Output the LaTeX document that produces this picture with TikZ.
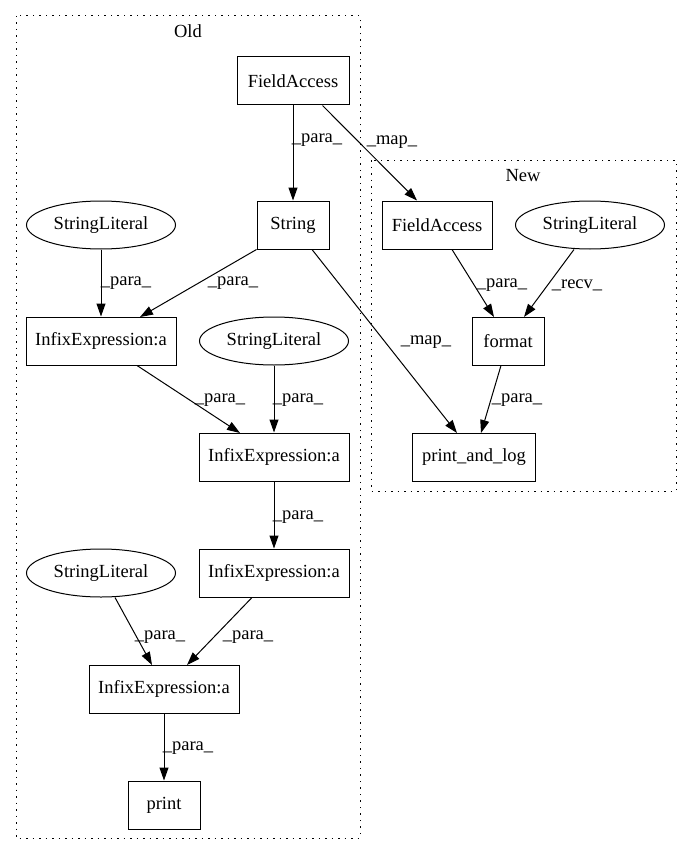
\documentclass[tikz,border=0pt]{standalone}
\usepackage{fontspec}
\setmainfont{Liberation Serif}
\usetikzlibrary{arrows.meta,shapes.geometric}

\begin{document}
\begin{tikzpicture}[
  x=1pt, y=-1pt,
  every node/.style={font=\fontsize{18.5}{21}\selectfont},
  box/.style={
    rectangle, draw=black, line width=1pt, minimum height=48pt, inner sep=0pt
  },
  lit/.style={
    ellipse, draw=black, line width=1pt, minimum width=149pt, minimum height=48pt, inner sep=0pt
  },
  arrow/.style={-{Stealth[length=13pt, width=9pt, inset=0pt]}, line width=1pt, black},
  elabel/.style={inner sep=0pt},
  clusterbox/.style={draw=black, line width=1pt, dash pattern=on 1.5pt off 5pt}
]
\useasboundingbox (0,0) rectangle (692,856);

% === Clusters ===
\draw[clusterbox] (16,16) rectangle (360,838);
\node (oldlbl) at (188,31) {Old};
\draw[clusterbox] (371,160) rectangle (676,491);
\node (newlbl) at (523,176) {New};

% === Old graph ===
\node[box, minimum width=112pt] (faold) at (293,81) {FieldAccess};
\node[box, minimum width=72pt] (string) at (293,225) {String};
\node[lit] (slone) at (101,225) {StringLiteral};
\node[box, minimum width=150pt] (infone) at (101,341) {InfixExpression:a};
\node[lit] (sltwo) at (274,341) {StringLiteral};
\node[box, minimum width=150pt] (inftwo) at (274,457) {InfixExpression:a};
\node[lit] (slthree) at (101,573) {StringLiteral};
\node[box, minimum width=150pt] (infthree) at (274,573) {InfixExpression:a};
\node[box, minimum width=150pt] (inffour) at (164,689) {InfixExpression:a};
\node[box, minimum width=72pt] (print) at (164,805) {print};

% === New graph ===
\node[box, minimum width=110pt] (fanew) at (437,225) {FieldAccess};
\node[lit] (slnew) at (590,225) {StringLiteral};
\node[box, minimum width=72pt] (format) at (508,341) {format};
\node[box, minimum width=123pt] (pal) at (474,457) {print\_and\_log};

% === Old edges ===
\draw[arrow] (faold) -- (string);
\draw[arrow] (faold.south east) ++(-27,0) -- (fanew.north west -| 417,0);
\draw[arrow] (slone) -- (infone);
\draw[arrow] (string.south west) -- (140,317);
\draw[arrow] (string.south) ++(19,0) -- (457,433);
\draw[arrow] (infone.south) ++(36,0) -- (240,433);
\draw[arrow] (sltwo) -- (inftwo);
\draw[arrow] (inftwo) -- (infthree);
\draw[arrow] (slthree.south) ++(14,0) -- (152,665);
\draw[arrow] (infthree.south) ++(-22,0) -- (187,665);
\draw[arrow] (inffour) -- (print);

% === New edges ===
\draw[arrow] (fanew.south) ++(15,0) -- (494,317);
\draw[arrow] (slnew.south) ++(-16,0) -- (524,317);
\draw[arrow] (format.south) ++(-7,0) -- (481,433);

% === Edge labels ===
\node[elabel] (l1) at (317,140) {\_para\_};
\node[elabel] (l2) at (392,142) {\_map\_};
\node[elabel] (l3) at (126,283) {\_para\_};
\node[elabel] (l4) at (233,283) {\_para\_};
\node[elabel] (l5) at (426,342) {\_map\_};
\node[elabel] (l6) at (502,285) {\_para\_};
\node[elabel] (l7) at (577,285) {\_recv\_};
\node[elabel] (l8) at (517,400) {\_para\_};
\node[elabel] (l9) at (220,400) {\_para\_};
\node[elabel] (l10) at (298,400) {\_para\_};
\node[elabel] (l11) at (298,517) {\_para\_};
\node[elabel] (l12) at (160,637) {\_para\_};
\node[elabel] (l13) at (248,637) {\_para\_};
\node[elabel] (l14) at (188,748) {\_para\_};

\end{tikzpicture}
\end{document}
